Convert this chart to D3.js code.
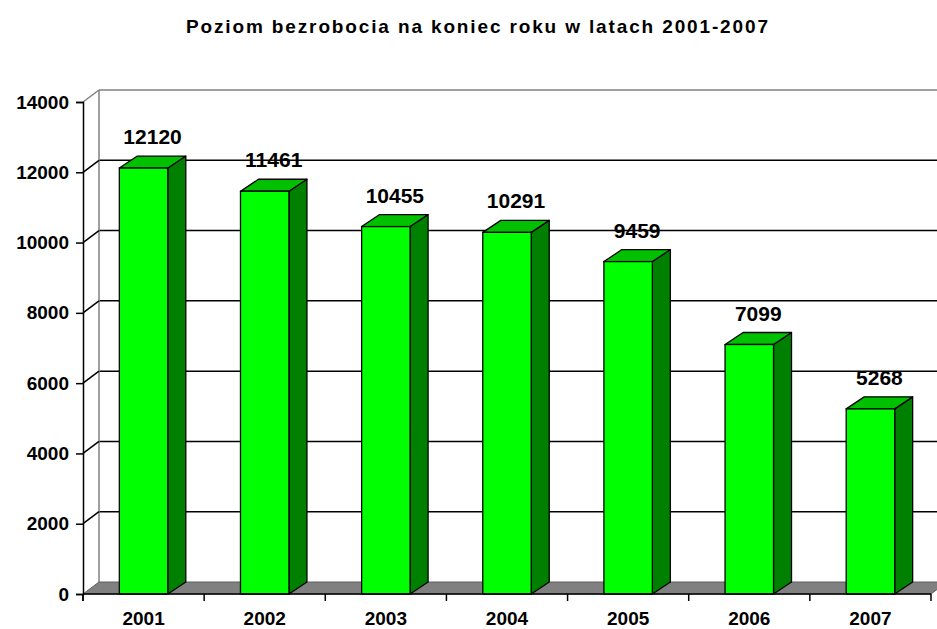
<!DOCTYPE html>
<html><head><meta charset="utf-8">
<script src="https://cdn.jsdelivr.net/npm/d3@7"></script>
<style>html,body{margin:0;padding:0;background:#fff;overflow:hidden}svg{display:block}</style>
</head><body>
<svg id="c" width="937" height="629"></svg>
<script>
const chartTitle = "Poziom bezrobocia na koniec roku w latach 2001-2007";
const years = ["2001", "2002", "2003", "2004", "2005", "2006", "2007"];
const values = [12120, 11461, 10455, 10291, 9459, 7099, 5268];
const yTicks = [0, 2000, 4000, 6000, 8000, 10000, 12000, 14000];

const svg = d3.select("#c");
const font = "'Liberation Sans', Arial, Helvetica, sans-serif";
const x = d3.scaleBand().domain(years).range([83, 931]).padding(0);
const y = d3.scaleLinear().domain([0, 14000]).range([594, 102]);
const wdx = 16, wdy = 12, bdx = 18, bdy = 12;
const bw = x.bandwidth() * 0.4;
const x0 = x.range()[0], x1 = x.range()[1];
const yMax = yTicks[yTicks.length - 1];

// title
svg.append("text")
  .attr("x", 477).attr("y", 33)
  .attr("text-anchor", "middle")
  .attr("font-family", font).attr("font-weight", "bold").attr("font-size", 19)
  .attr("textLength", 582).attr("lengthAdjust", "spacing")
  .text(chartTitle);

// back wall gridlines
svg.append("g").selectAll("line").data(yTicks.filter(d => d > 0)).join("line")
  .attr("x1", x0 + wdx).attr("x2", x1 + wdx + 10)
  .attr("y1", d => y(d) - wdy).attr("y2", d => y(d) - wdy)
  .attr("stroke", d => d === yMax ? "#808080" : "#000")
  .attr("stroke-width", 1.5);

// back wall left edge
svg.append("line")
  .attr("x1", x0 + wdx).attr("x2", x0 + wdx)
  .attr("y1", y(yMax) - wdy).attr("y2", y(0) - wdy)
  .attr("stroke", "#808080").attr("stroke-width", 1.5);

// floor
svg.append("polygon")
  .attr("points", [[x0, y(0)], [x1, y(0)], [x1 + wdx, y(0) - wdy], [x0 + wdx, y(0) - wdy]].map(p => p.join(",")).join(" "))
  .attr("fill", "#808080").attr("stroke", "#606060").attr("stroke-width", 1);

// side wall diagonals at ticks
svg.append("g").selectAll("line").data(yTicks.filter(d => d > 0)).join("line")
  .attr("x1", x0).attr("x2", x0 + wdx)
  .attr("y1", d => y(d)).attr("y2", d => y(d) - wdy)
  .attr("stroke", d => d === yMax ? "#808080" : "#000")
  .attr("stroke-width", 1.5);

// bars
const bars = svg.append("g").selectAll("g").data(values).join("g");
const fx = (d, i) => x(years[i]) + (x.bandwidth() - bw) / 2;
bars.append("polygon") // side
  .attr("points", (d, i) => {
    const a = fx(d, i) + bw, t = y(d), b = y(0);
    return [[a, t], [a + bdx, t - bdy], [a + bdx, b - bdy], [a, b]].map(p => p.join(",")).join(" ");
  })
  .attr("fill", "#008000").attr("stroke", "#000").attr("stroke-width", 1.3).attr("stroke-linejoin", "round");
bars.append("polygon") // top
  .attr("points", (d, i) => {
    const a = fx(d, i), t = y(d);
    return [[a, t], [a + bdx, t - bdy], [a + bw + bdx, t - bdy], [a + bw, t]].map(p => p.join(",")).join(" ");
  })
  .attr("fill", "#00C000").attr("stroke", "#000").attr("stroke-width", 1.3).attr("stroke-linejoin", "round");
bars.append("rect") // front
  .attr("x", (d, i) => fx(d, i)).attr("y", d => y(d))
  .attr("width", bw).attr("height", d => y(0) - y(d))
  .attr("fill", "#00FF00").attr("stroke", "#000").attr("stroke-width", 1.3);

// value labels
bars.append("text")
  .attr("x", (d, i) => fx(d, i) + bw / 2 + bdx / 2)
  .attr("y", d => y(d) - 24)
  .attr("text-anchor", "middle")
  .attr("font-family", font).attr("font-weight", "bold").attr("font-size", 21)
  .text(d => d);

// y axis
const yAxis = svg.append("g").attr("transform", `translate(${x0},0)`)
  .call(d3.axisLeft(y).tickValues(yTicks).tickSize(7).tickPadding(7).tickFormat(d3.format("d")));
yAxis.select(".domain").attr("stroke", "#000").attr("stroke-width", 1.5);
yAxis.selectAll(".tick line").attr("stroke", "#000").attr("stroke-width", 1.5);
yAxis.selectAll("text").attr("font-family", font).attr("font-weight", "bold").attr("font-size", 19).attr("fill", "#000");
svg.append("line").attr("x1", x0).attr("x2", x0).attr("y1", y(0)).attr("y2", y(0) + 7)
  .attr("stroke", "#000").attr("stroke-width", 1.5);

// x axis
const xAxis = svg.append("g").attr("transform", `translate(0,${y(0)})`)
  .call(d3.axisBottom(x).tickSize(0).tickPadding(18));
xAxis.select(".domain").remove();
xAxis.selectAll("text").attr("font-family", font).attr("font-weight", "bold").attr("font-size", 19).attr("fill", "#000");
svg.append("line").attr("x1", x0).attr("x2", x1).attr("y1", y(0)).attr("y2", y(0))
  .attr("stroke", "#000").attr("stroke-width", 1.5);
const bounds = years.map(d => x(d)).concat([x1]);
svg.append("g").selectAll("line").data(bounds).join("line")
  .attr("x1", d => d).attr("x2", d => d).attr("y1", y(0)).attr("y2", y(0) + 7)
  .attr("stroke", "#000").attr("stroke-width", 1.5);
</script>
</body></html>
